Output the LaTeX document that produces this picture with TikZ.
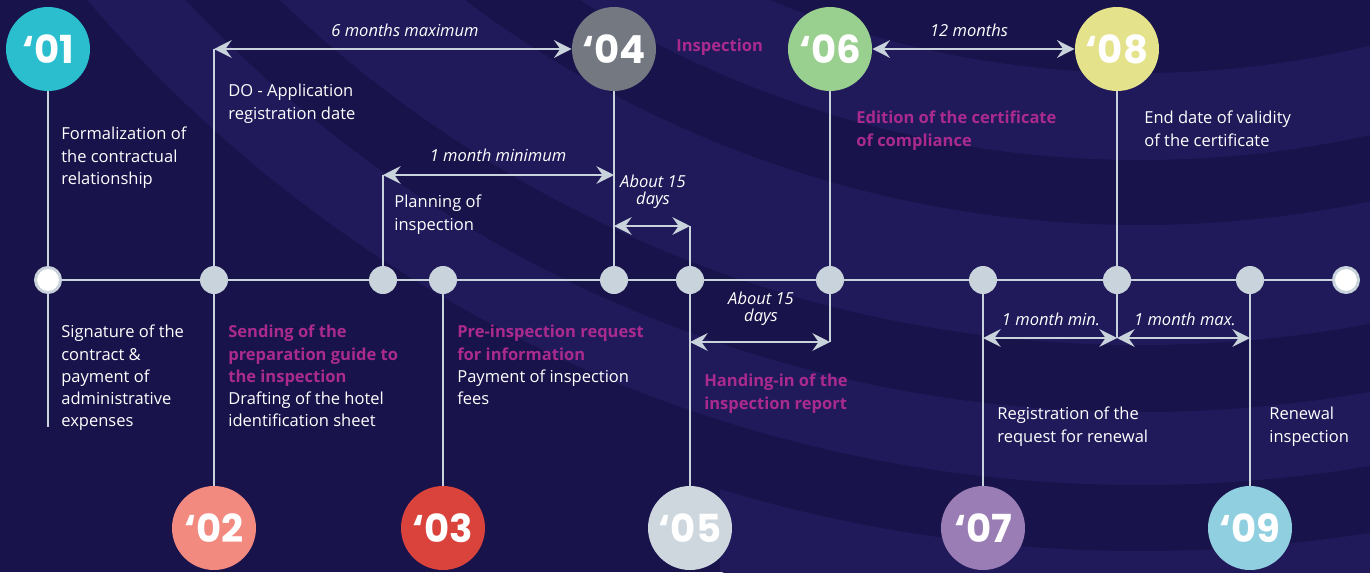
\documentclass[tikz,border=0pt]{standalone}
\usepackage{fontspec}
\setmainfont{Open Sans}
\newfontfamily\numfont{Poppins}
\usetikzlibrary{arrows.meta}
\pgfdeclarelayer{bg}
\pgfdeclarelayer{lines}
\pgfsetlayers{bg,lines,main}
\definecolor{bgdark}{HTML}{18134A}
\definecolor{bglight}{HTML}{201A5B}
\definecolor{linecol}{HTML}{C8D3DB}
\definecolor{mag}{HTML}{AA2A8E}
\definecolor{c01}{HTML}{2BBECE}
\definecolor{c02}{HTML}{F28A80}
\definecolor{c03}{HTML}{DA433B}
\definecolor{c04}{HTML}{737881}
\definecolor{c05}{HTML}{CDD7DD}
\definecolor{c06}{HTML}{99CF8F}
\definecolor{c07}{HTML}{9B7DB5}
\definecolor{c08}{HTML}{E4E28A}
\definecolor{c09}{HTML}{8FCFE0}
\tikzset{
  bignum/.style={circle, minimum size=1.68cm, inner sep=0pt, text=white,
    font=\numfont\bfseries\fontsize{22}{22}\selectfont},
  dot/.style={circle, fill=linecol, minimum size=0.56cm, inner sep=0pt},
  wdot/.style={circle, fill=white, draw=linecol, line width=1.7pt, minimum size=0.5cm, inner sep=0pt},
  ln/.style={draw=linecol, line width=1.4pt},
  dim/.style={draw=linecol, line width=1.4pt,
    {Stealth[length=10pt,width=10pt,inset=3.5pt]}-{Stealth[length=10pt,width=10pt,inset=3.5pt]}},
  lab/.style={text=white, font=\fontsize{9.4}{9.8}\selectfont\itshape, align=center, inner sep=0pt},
  txt/.style={text=white, font=\fontsize{9.4}{12.6}\selectfont, align=left, anchor=north west, inner sep=0pt},
}
\newcommand\hl[1]{{\color{mag}\bfseries #1}}
\begin{document}
\begin{tikzpicture}[x=0.02cm,y=-0.02cm]
\useasboundingbox (0,0) rectangle (1370,572);
\begin{pgfonlayer}{bg}
  \clip (0,0) rectangle (1370,572);
  \fill[bgdark] (0,0) rectangle (1370,572);
  \foreach \ro/\ri in {1385/1312, 1245/1125, 1060/973}{
    \fill[bglight, even odd rule] (1140,-900) circle[radius=\ro] (1140,-900) circle[radius=\ri];
  }
  \begin{scope}
    \clip (720,0) rectangle (1370,572);
    \fill[bglight, even odd rule] (1140,-900) circle[radius=1530] (1140,-900) circle[radius=1451];
  \end{scope}
\end{pgfonlayer}

% timeline dots
\node[wdot] (d1) at (48,280) {};
\node[dot] (d2) at (214,280) {};
\node[dot] (d3) at (383,280) {};
\node[dot] (d4) at (443,280) {};
\node[dot] (d5) at (614,280) {};
\node[dot] (d6) at (690,280) {};
\node[dot] (d7) at (830,280) {};
\node[dot] (d8) at (983,280) {};
\node[dot] (d9) at (1117,280) {};
\node[dot] (d10) at (1250,280) {};
\node[wdot] (d11) at (1346,280) {};

% big numbered circles
\node[bignum, fill=c01] (n01) at (48,49) {‘01};
\node[bignum, fill=c04] (n04) at (614,49) {‘04};
\node[bignum, fill=c06] (n06) at (830,49) {‘06};
\node[bignum, fill=c08] (n08) at (1117,49) {‘08};
\node[bignum, fill=c02] (n02) at (214,528) {‘02};
\node[bignum, fill=c03] (n03) at (443,528) {‘03};
\node[bignum, fill=c05] (n05) at (690,528) {‘05};
\node[bignum, fill=c07] (n07) at (983,528) {‘07};
\node[bignum, fill=c09] (n09) at (1250,528) {‘09};

% helper coordinates
\coordinate (e1) at (48,427);
\coordinate (c2) at (214,49);
\coordinate (c3) at (383,175);
\coordinate (c5a) at (614,175);
\coordinate (c5b) at (614,226);
\coordinate (c6) at (690,226);
\coordinate (c6b) at (690,342);
\coordinate (c7) at (830,342);
\coordinate (c8) at (983,338);
\coordinate (c9) at (1117,338);
\coordinate (c10) at (1250,338);

\begin{pgfonlayer}{lines}
  \draw[ln] (d1.center) -- (d11.center);
  \draw[ln] (n01.center) -- (d1.center);
  \draw[ln] (d1.center) -- (e1);
  \draw[ln] (d2.center) -- (c2);
  \draw[ln] (d2.center) -- (n02.center);
  \draw[ln] (d3.center) -- (c3);
  \draw[ln] (d4.center) -- (n03.center);
  \draw[ln] (n04.center) -- (d5.center);
  \draw[ln] (d6.center) -- (c6);
  \draw[ln] (d6.center) -- (n05.center);
  \draw[ln] (n06.center) -- (d7.center);
  \draw[ln] (d7.center) -- (c7);
  \draw[ln] (d8.center) -- (n07.center);
  \draw[ln] (n08.center) -- (d9.center);
  \draw[ln] (d9.center) -- (c9);
  \draw[ln] (d10.center) -- (n09.center);
\end{pgfonlayer}

% dimension arrows
\draw[dim] (c2) -- (n04);
\draw[dim] (c3) -- (c5a);
\draw[dim] (c5b) -- (c6);
\draw[dim] (c6b) -- (c7);
\draw[dim] (n06) -- (n08);
\draw[dim] (c8) -- (c9);
\draw[dim] (c9) -- (c10);

% dimension labels
\node[lab] (l1) at (405,30) {6 months maximum};
\node[lab] (l2) at (498,155) {1 month minimum};
\node[lab] (l3) at (653,192) {About 15\\days};
\node[lab] (l4) at (761,309) {About 15\\days};
\node[lab] (l5) at (969,30) {12 months};
\node[lab] (l6) at (1051,319) {1 month min.};
\node[lab] (l7) at (1185,319) {1 month max.};

% descriptive texts
\node[txt] (t1) at (61,127) {Formalization of\\the contractual\\relationship};
\node[txt] (t2) at (228,84) {DO - Application\\registration date};
\node[txt] (t3) at (394,195) {Planning of\\inspection};
\node[txt] (t4) at (676,39) {\hl{Inspection}};
\node[txt] (t5) at (856,111) {\hl{Edition of the certificate}\\\hl{of compliance}};
\node[txt] (t6) at (1144,111) {End date of validity\\of the certificate};
\node[txt] (t7) at (61,325) {Signature of the\\contract \&\\payment of\\administrative\\expenses};
\node[txt] (t8) at (228,325) {\hl{Sending of the}\\\hl{preparation guide to}\\\hl{the inspection}\\Drafting of the hotel\\identification sheet};
\node[txt] (t9) at (457,325) {\hl{Pre-inspection request}\\\hl{for information}\\Payment of inspection\\fees};
\node[txt] (t10) at (704,374) {\hl{Handing-in of the}\\\hl{inspection report}};
\node[txt] (t11) at (997,407) {Registration of the\\request for renewal};
\node[txt] (t12) at (1269,407) {Renewal\\inspection};
\end{tikzpicture}
\end{document}
